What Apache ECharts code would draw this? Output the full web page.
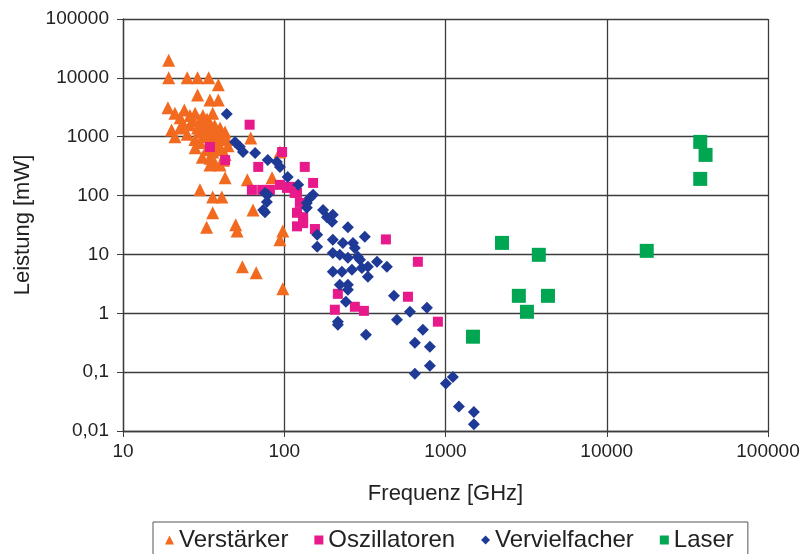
<!DOCTYPE html>
<html lang="de">
<head>
  <meta charset="UTF-8">
  <script src="https://cdn.jsdelivr.net/npm/echarts@6/dist/echarts.min.js"></script>
  <title>Leistung über Frequenz</title>
</head>
<body>
  <div id="chart"></div>
</body>
<style>
  html,body{
    padding: 0;
    margin: 0;
    background: #fff;
  }
  #chart {
    width: 805px;
    height: 554px;
  }
</style>
</html>
<script>
// [Frequenz GHz, Leistung mW]
const verstaerker = [
  [19.2,20000],[19.2,10000],[25,10000],[29,10000],[34,10000],[39,7600],[29,5100],[34.6,4200],[39,4200],
  [19,3100],[21,2500],[22.6,2100],[24,2850],[23.5,1700],[26,2300],[26,1600],[27.2,1900],[28,2500],
  [29,1400],[30,1900],[30,1200],[31.3,2300],[31.3,1600],[32.2,1000],[33.2,1400],[33.2,2000],[34.6,1700],
  [34.6,1150],[34.6,880],[36,1300],[36,950],[36,2500],[37,1550],[37,700],[38.8,1100],[38.8,800],[40,1400],
  [40,600],[41,950],[42.9,1200],[42.9,500],[44.8,700],[36,550],[33,600],[30,800],[27.9,900],[25,1100],
  [22.6,1400],[34.6,430],[37,360],[40,330],[42,400],[31,450],[28,650],[44,900],[21,1000],[20,1300],
  [34.6,330],[43,200],[59,185],[84,200],[30,125],[36,95],[41,95],[64,57],[36,51],[33,29],[50,32],[51,25],
  [98,25],[94,17.7],[55,6.2],[67,4.9],[98,2.6],[62,950],[94,550]
];
const oszillatoren = [
  [61,1600],[34.6,670],[43,400],[97,550],[69,307],[134,307],[63,125],[73,125],[81.5,125],[94,152],
  [108,141],[120,111],[104,135],[116,111],[125,75],[120,51],[151,164],[131,43],[155,27],[120,30],
  [131,34],[427,18],[674,7.5],[215,2.14],[585,1.91],[206,1.15],[274,1.29],[312,1.1],[897,0.72]
];
const vervielfacher = [
  [44,2440],[49.5,817],[53,672],[55.5,552],[66,531],[79,404],[90,373],[94,307],[105,207],[122,152],
  [144,91],[151,103],[79,103],[78,78],[74,57],[76,111],[76,52],[138,62],[138,75],[174,57],[184,43],
  [198,36],[200,47],[248,29],[160,21.5],[160,13.5],[200,17.7],[231,15.7],[267,15.7],[316,19.9],[274,12.9],
  [200,10.6],[221,9.85],[248,8.75],[286,9.1],[295,8.1],[330,6.15],[376,7.5],[433,6.15],[200,5.07],
  [228,5.07],[263,5.5],[303,5.9],[330,4.17],[248,3.05],[248,2.51],[221,3.05],[241,1.57],[215,0.72],
  [215,0.64],[321,0.43],[479,1.98],[602,1.06],[767,1.24],[500,0.78],[724,0.525],[646,0.316],[800,0.27],
  [800,0.129],[646,0.094],[1111,0.083],[1005,0.064],[1211,0.026],[1500,0.021],[1500,0.013]
];
const laser = [
  [38000,817],[41000,491],[38000,192],[2240,15.7],[3790,9.85],[17700,11.5],
  [2850,1.98],[4320,1.98],[3200,1.06],[1480,0.4]
];

const font = "'Liberation Sans', Arial, sans-serif";
const gridLine = { show: true, lineStyle: { color: '#3c3c3c', width: 1.3 } };

const fmt = (v) => String(Number(v.toPrecision(6))).replace('.', ',');

const option = {
  animation: false,
  textStyle: { fontFamily: font },
  grid: { left: 123, right: 37, top: 19, bottom: 123, outerBoundsMode: 'none', containLabel: false },
  legend: {
    left: 153,
    top: 522,
    padding: [6, 14, 10, 12],
    borderColor: '#555',
    borderWidth: 1,
    itemWidth: 9,
    itemHeight: 9,
    itemGap: 26,
    textStyle: { fontSize: 24, color: '#222', fontFamily: font },
    data: [
      { name: 'Verstärker', icon: 'triangle' },
      { name: 'Oszillatoren', icon: 'rect' },
      { name: 'Vervielfacher', icon: 'diamond' },
      { name: 'Laser', icon: 'rect' }
    ]
  },
  xAxis: {
    type: 'log',
    logBase: 10,
    min: 10,
    max: 100000,
    splitNumber: 10,
    name: 'Frequenz [GHz]',
    nameLocation: 'middle',
    nameGap: 52,
    nameTextStyle: { fontSize: 22, color: '#222', fontFamily: font },
    axisLine: { lineStyle: { color: '#3c3c3c', width: 1.3 } },
    axisTick: { show: true, length: 6, lineStyle: { color: '#3c3c3c' } },
    axisLabel: { fontSize: 19, color: '#222', margin: 11, formatter: fmt },
    splitLine: gridLine,
    minorTick: { show: false }
  },
  yAxis: {
    type: 'log',
    logBase: 10,
    min: 0.01,
    max: 100000,
    splitNumber: 10,
    name: 'Leistung [mW]',
    nameLocation: 'middle',
    nameGap: 89,
    nameTextStyle: { fontSize: 22, color: '#222', fontFamily: font },
    axisLine: { lineStyle: { color: '#3c3c3c', width: 1.3 } },
    axisTick: { show: true, length: 6, lineStyle: { color: '#3c3c3c' } },
    axisLabel: { fontSize: 19, color: '#222', margin: 14, formatter: fmt },
    splitLine: gridLine
  },
  series: [
    {
      name: 'Verstärker', type: 'scatter', symbol: 'triangle', symbolSize: 13,
      itemStyle: { color: '#f26a1f', opacity: 1 }, data: verstaerker
    },
    {
      name: 'Oszillatoren', type: 'scatter', symbol: 'rect', symbolSize: 10,
      itemStyle: { color: '#e8198b', opacity: 1 }, data: oszillatoren
    },
    {
      name: 'Vervielfacher', type: 'scatter', symbol: 'diamond', symbolSize: 12,
      itemStyle: { color: '#1f3a96', opacity: 1 }, data: vervielfacher
    },
    {
      name: 'Laser', type: 'scatter', symbol: 'rect', symbolSize: 14,
      itemStyle: { color: '#00a651', opacity: 1 }, data: laser
    }
  ]
};

const chartDom = document.getElementById('chart');
const myChart = echarts.init(chartDom);
myChart.setOption(option);
</script>
